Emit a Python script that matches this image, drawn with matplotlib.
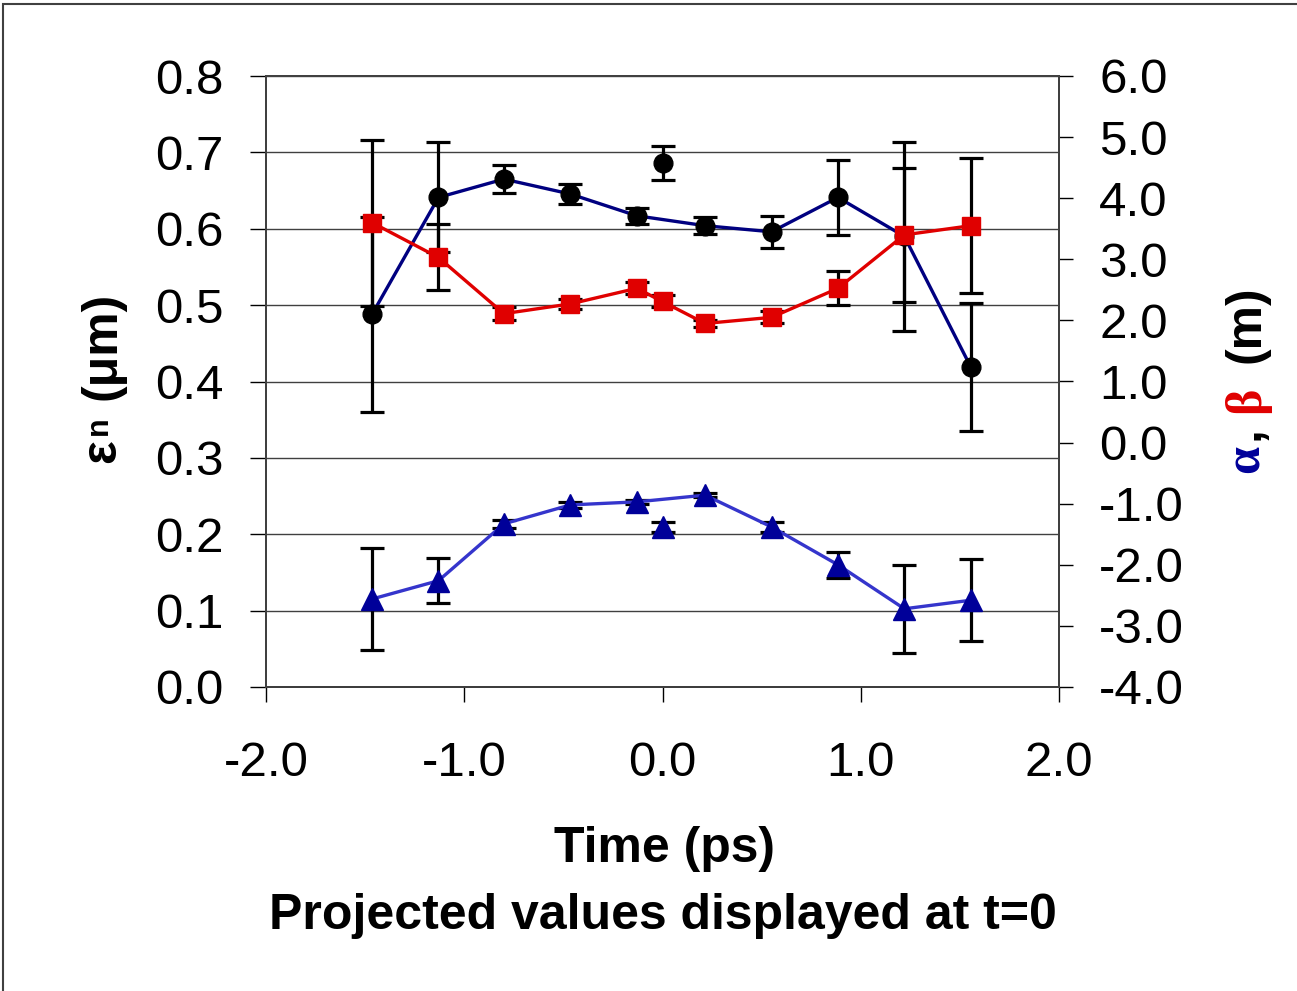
import matplotlib
matplotlib.use("Agg")
import matplotlib.pyplot as plt
from matplotlib.ticker import FormatStrFormatter, MultipleLocator
from matplotlib.patches import Rectangle

plt.rcParams['font.family'] = ['Liberation Sans', 'DejaVu Sans']
plt.rcParams['axes.unicode_minus'] = False

# slice times (ps)
t = [-1.465, -1.13, -0.80, -0.465, -0.13, 0.215, 0.55, 0.885, 1.22, 1.555]

# normalised emittance (um)
emit = [0.488, 0.641, 0.665, 0.6455, 0.617, 0.604, 0.596, 0.641, 0.590, 0.419]
emit_err = [0.128, 0.072, 0.0185, 0.0125, 0.0105, 0.011, 0.021, 0.049, 0.1235, 0.084]

# beta (m)
beta = [3.60, 3.03, 2.11, 2.27, 2.525, 1.95, 2.05, 2.525, 3.40, 3.55]
beta_err = [1.36, 0.54, 0.11, 0.08, 0.10, 0.06, 0.10, 0.28, 1.10, 1.10]

# alpha
alpha = [-2.56, -2.26, -1.33, -1.02, -0.97, -0.86, -1.38, -2.00, -2.72, -2.58]
alpha_err = [0.83, 0.37, 0.06, 0.05, 0.03, 0.03, 0.075, 0.21, 0.72, 0.67]

# projected values, shown at t = 0
t_proj = [0.0]
emit_proj = [0.6865]
emit_proj_err = [0.0225]
beta_proj = [2.32]
beta_proj_err = [0.10]
alpha_proj = [-1.375]
alpha_proj_err = [0.08]

W, H = 1297, 991
fig = plt.figure(figsize=(W / 100, H / 100), dpi=100)
ax = fig.add_axes([266 / W, 1 - 687 / H, (1059 - 266) / W, (687 - 76) / H])
ax2 = ax.twinx()

eb = dict(fmt='none', ecolor='black', elinewidth=2.3, capsize=8.5, capthick=2.3, zorder=2)
ms = 13.5

# emittance on the left axis
ax.errorbar(t, emit, yerr=emit_err, **eb)
ax.errorbar(t_proj, emit_proj, yerr=emit_proj_err, **eb)
ax.plot(t, emit, color='#000080', lw=2.4, zorder=3)
ax.plot(t + t_proj, emit + emit_proj, 'o', color='black', ms=ms, zorder=4)

# beta and alpha on the right axis
ax2.errorbar(t, beta, yerr=beta_err, **eb)
ax2.errorbar(t_proj, beta_proj, yerr=beta_proj_err, **eb)
ax2.errorbar(t, alpha, yerr=alpha_err, **eb)
ax2.errorbar(t_proj, alpha_proj, yerr=alpha_proj_err, **eb)
ax2.plot(t, beta, color='#E00000', lw=2.4, zorder=3)
ax2.plot(t + t_proj, beta + beta_proj, 's', color='#E00000', ms=ms, zorder=4)
ax2.plot(t, alpha, color='#3535CC', lw=2.4, zorder=3)
ax2.plot(t + t_proj, alpha + alpha_proj, '^', color='#000099', ms=15.5, zorder=4)

ax.set_xlim(-2.0, 2.0)
ax.set_ylim(0.0, 0.8)
ax2.set_ylim(-4.0, 6.0)
ax.xaxis.set_major_locator(MultipleLocator(1.0))
ax.yaxis.set_major_locator(MultipleLocator(0.1))
ax2.yaxis.set_major_locator(MultipleLocator(1.0))
ax.xaxis.set_major_formatter(FormatStrFormatter('%.1f'))
ax.yaxis.set_major_formatter(FormatStrFormatter('%.1f'))
ax2.yaxis.set_major_formatter(FormatStrFormatter('%.1f'))

ax.grid(axis='y', color='#404040', lw=1.0)
ax.set_axisbelow(True)

for a in (ax, ax2):
    for s in a.spines.values():
        s.set_color('#404040')
        s.set_linewidth(1.4)
ax.spines['bottom'].set_color('black')

ax.tick_params(axis='x', direction='out', length=11, width=1.0, pad=28, labelsize=35.5)
ax.tick_params(axis='y', direction='out', length=11.5, width=1.0, pad=19, labelsize=35.5)
ax2.tick_params(axis='y', direction='out', length=10, width=1.0, pad=19, labelsize=35.5)

# axis titles
fig.text(664 / W, 1 - 862 / H, 'Time (ps)', ha='center', va='baseline',
         fontsize=36, fontweight='bold')
fig.text(663 / W, 1 - 929 / H, 'Projected values displayed at t=0', ha='center',
         va='baseline', fontsize=36, fontweight='bold')

lab = dict(rotation=90, rotation_mode='anchor', ha='left', va='baseline', fontweight='bold')
fig.text(115 / W, 1 - 463 / H, 'ε', fontsize=36, **lab)
fig.text(107 / W, 1 - 435 / H, 'n', fontsize=22, **lab)
fig.text(115 / W, 1 - 400 / H, '(μm)', fontsize=36, **lab)

fig.text(1259 / W, 1 - 473 / H, 'α', fontsize=36, color='#000099', family='Liberation Serif', **lab)
fig.text(1259 / W, 1 - 440 / H, ',', fontsize=36, color='black', **lab)
fig.text(1259 / W, 1 - 413 / H, 'β', fontsize=36, color='#E00000', family='Liberation Serif', **lab)
fig.text(1259 / W, 1 - 363 / H, '(m)', fontsize=36, color='black', **lab)

# chart area border
fig.patches.append(Rectangle((3 / W, -0.05), 1.1, 1.05 - 4 / H, transform=fig.transFigure,
                             fill=False, edgecolor='#404040', lw=1.5, clip_on=False))

fig.savefig('out.png', dpi=100)
